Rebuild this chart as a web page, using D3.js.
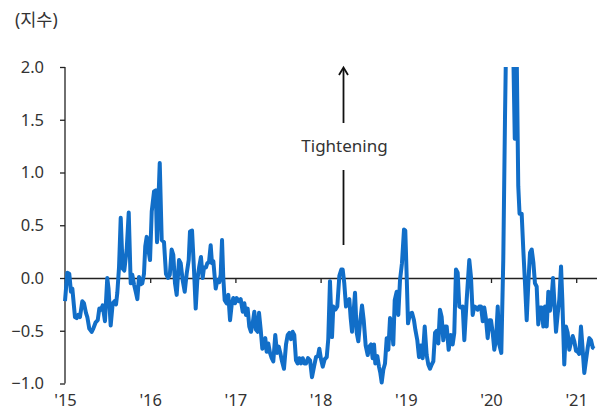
<!DOCTYPE html>
<html>
<head>
<meta charset="utf-8">
<script src="https://cdn.jsdelivr.net/npm/d3@7"></script>
<style>
  body { margin: 0; background: #fff; }
  text { font-family: "Noto Sans", "Noto Sans CJK KR", sans-serif; fill: #333; }
</style>
</head>
<body>
<div id="visContainer"></div>
<script>
// time as decimal years (about one point a week)
const years = [
  2015.000, 2015.027, 2015.050, 2015.070, 2015.086, 2015.117, 2015.137, 2015.156, 2015.176, 2015.203,
  2015.223, 2015.246, 2015.262, 2015.285, 2015.313, 2015.332, 2015.360, 2015.384, 2015.403, 2015.423,
  2015.442, 2015.469, 2015.496, 2015.511, 2015.536, 2015.560, 2015.581, 2015.599, 2015.614, 2015.634,
  2015.654, 2015.677, 2015.696, 2015.724, 2015.748, 2015.771, 2015.790, 2015.810, 2015.833, 2015.849,
  2015.869, 2015.888, 2015.907, 2015.927, 2015.942, 2015.959, 2015.978, 2015.998, 2016.018, 2016.045,
  2016.065, 2016.080, 2016.095, 2016.112, 2016.135, 2016.162, 2016.185, 2016.209, 2016.230, 2016.252,
  2016.271, 2016.291, 2016.311, 2016.338, 2016.358, 2016.381, 2016.405, 2016.428, 2016.452, 2016.467,
  2016.491, 2016.514, 2016.534, 2016.553, 2016.576, 2016.596, 2016.616, 2016.631, 2016.655, 2016.670,
  2016.690, 2016.710, 2016.725, 2016.741, 2016.755, 2016.769, 2016.788, 2016.811, 2016.827, 2016.843,
  2016.858, 2016.874, 2016.898, 2016.917, 2016.937, 2016.957, 2016.975, 2016.995, 2017.015, 2017.039,
  2017.062, 2017.086, 2017.105, 2017.124, 2017.144, 2017.163, 2017.183, 2017.203, 2017.222, 2017.242,
  2017.262, 2017.277, 2017.297, 2017.316, 2017.336, 2017.351, 2017.367, 2017.386, 2017.406, 2017.426,
  2017.445, 2017.468, 2017.488, 2017.508, 2017.527, 2017.547, 2017.570, 2017.594, 2017.614, 2017.633,
  2017.653, 2017.672, 2017.691, 2017.711, 2017.731, 2017.750, 2017.770, 2017.790, 2017.809, 2017.829,
  2017.852, 2017.876, 2017.899, 2017.923, 2017.946, 2017.969, 2017.985, 2018.005, 2018.025, 2018.048,
  2018.072, 2018.090, 2018.110, 2018.134, 2018.149, 2018.173, 2018.196, 2018.220, 2018.243, 2018.259,
  2018.278, 2018.298, 2018.318, 2018.337, 2018.353, 2018.369, 2018.384, 2018.404, 2018.424, 2018.443,
  2018.462, 2018.486, 2018.506, 2018.529, 2018.553, 2018.572, 2018.592, 2018.611, 2018.627, 2018.642,
  2018.666, 2018.685, 2018.701, 2018.717, 2018.736, 2018.756, 2018.776, 2018.795, 2018.815, 2018.834,
  2018.853, 2018.870, 2018.893, 2018.912, 2018.932, 2018.955, 2018.979, 2018.994, 2019.011, 2019.026,
  2019.049, 2019.073, 2019.096, 2019.112, 2019.135, 2019.155, 2019.175, 2019.198, 2019.222, 2019.245,
  2019.264, 2019.284, 2019.304, 2019.323, 2019.343, 2019.363, 2019.382, 2019.401, 2019.421, 2019.440,
  2019.460, 2019.480, 2019.503, 2019.527, 2019.550, 2019.569, 2019.589, 2019.609, 2019.628, 2019.648,
  2019.668, 2019.687, 2019.715, 2019.745, 2019.765, 2019.785, 2019.804, 2019.824, 2019.844, 2019.863,
  2019.883, 2019.903, 2019.921, 2019.941, 2019.961, 2019.980, 2020.000, 2020.020, 2020.039, 2020.059,
  2020.079, 2020.097, 2020.121, 2020.144, 2020.164, 2020.180, 2020.200, 2020.229, 2020.258, 2020.279,
  2020.299, 2020.320, 2020.335, 2020.360, 2020.379, 2020.399, 2020.419, 2020.438, 2020.458, 2020.478,
  2020.497, 2020.516, 2020.536, 2020.555, 2020.575, 2020.595, 2020.614, 2020.634, 2020.654, 2020.673,
  2020.692, 2020.712, 2020.728, 2020.743, 2020.763, 2020.783, 2020.802, 2020.822, 2020.837, 2020.860,
  2020.880, 2020.900, 2020.919, 2020.939, 2020.959, 2020.978, 2020.998, 2021.018, 2021.036, 2021.056,
  2021.076, 2021.095, 2021.115, 2021.135, 2021.154, 2021.174, 2021.194, 2021.212
];

const index = [
  -0.22, 0.05, 0.04, -0.13, -0.10, -0.37, -0.38, -0.35, -0.37, -0.22,
  -0.24, -0.33, -0.37, -0.48, -0.51, -0.48, -0.42, -0.40, -0.29, -0.30,
  -0.26, -0.41, 0.00, -0.10, -0.45, -0.24, -0.22, -0.25, -0.14, 0.10,
  0.57, 0.09, 0.07, 0.27, 0.62, -0.05, 0.03, -0.06, -0.14, -0.20,
  0.01, -0.06, -0.05, 0.04, 0.30, 0.39, 0.27, 0.17, 0.63, 0.82,
  0.83, 0.34, 0.70, 1.09, 0.36, 0.34, 0.04, 0.00, 0.03, 0.27,
  0.22, -0.05, -0.16, 0.17, 0.14, -0.02, -0.13, 0.04, 0.17, 0.44,
  0.45, 0.08, -0.29, -0.02, 0.11, 0.20, 0.00, 0.10, 0.10, 0.14,
  0.15, 0.31, 0.14, 0.16, 0.03, -0.10, -0.02, -0.04, 0.03, 0.36,
  0.00, -0.21, -0.24, -0.16, -0.40, -0.25, -0.19, -0.24, -0.19, -0.22,
  -0.20, -0.32, -0.24, -0.35, -0.29, -0.46, -0.51, -0.43, -0.32, -0.49,
  -0.51, -0.33, -0.49, -0.67, -0.65, -0.57, -0.70, -0.62, -0.71, -0.76,
  -0.79, -0.54, -0.71, -0.65, -0.71, -0.79, -0.86, -0.63, -0.54, -0.52,
  -0.58, -0.51, -0.54, -0.78, -0.81, -0.76, -0.81, -0.76, -0.81, -0.81,
  -0.76, -0.78, -0.94, -0.84, -0.75, -0.74, -0.67, -0.77, -0.84, -0.77,
  -0.75, -0.58, -0.03, -0.56, -0.27, -0.30, -0.27, 0.02, 0.08, 0.08,
  -0.05, -0.27, -0.22, -0.20, -0.38, -0.51, -0.36, -0.14, -0.52, -0.60,
  -0.43, -0.26, -0.40, -0.64, -0.73, -0.65, -0.63, -0.76, -0.63, -0.81,
  -0.74, -0.84, -0.90, -0.99, -0.87, -0.81, -0.57, -0.68, -0.38, -0.43,
  -0.63, -0.21, -0.13, -0.35, -0.02, 0.14, 0.46, 0.45, 0.00, -0.43,
  -0.34, -0.33, -0.40, -0.49, -0.59, -0.75, -0.64, -0.76, -0.46, -0.73,
  -0.82, -0.86, -0.82, -0.79, -0.52, -0.50, -0.62, -0.30, -0.37, -0.59,
  -0.46, -0.46, -0.68, -0.54, -0.63, -0.52, 0.08, 0.05, -0.27, -0.28,
  -0.27, -0.59, -0.20, 0.17, 0.01, -0.35, -0.27, -0.28, -0.30, -0.27,
  -0.27, -0.41, -0.28, -0.39, -0.57, -0.40, -0.40, -0.52, -0.68, -0.58,
  -0.27, -0.63, -0.71, 0.17, 1.50, 2.40, 4.00, 3.20, 2.30, 1.32,
  2.30, 0.87, 0.61, 0.61, 0.27, -0.05, -0.40, -0.05, 0.24, 0.27,
  0.15, -0.05, -0.08, -0.44, -0.28, -0.28, -0.46, -0.27, -0.46, -0.13,
  -0.31, -0.18, 0.00, -0.22, -0.51, -0.34, -0.20, 0.11, -0.20, -0.82,
  -0.46, -0.52, -0.68, -0.61, -0.55, -0.60, -0.69, -0.70, -0.72, -0.46,
  -0.68, -0.90, -0.78, -0.66, -0.57, -0.59, -0.66, -0.67
];

const yearTicks = [2015, 2016, 2017, 2018, 2019, 2020, 2021];
const yearLabels = ["'15", "'16", "'17", "'18", "'19", "'20", "'21"];
const valueTicks = [-1.0, -0.5, 0.0, 0.5, 1.0, 1.5, 2.0];

function makeVis() {
  const width = 597;
  const height = 416;
  const margins = { left: 65, right: 0, top: 67, bottom: 32.5 };

  const svg = d3.create("svg")
    .attr("width", width)
    .attr("height", height);
  document.querySelector("#visContainer").append(svg.node());

  const xScale = d3.scaleLinear().domain([2015, 2021.25]).range([margins.left, width + 0.5]);
  const yScale = d3.scaleLinear().domain([-1, 2]).range([height - margins.bottom, margins.top]);

  // unit label
  svg.append("text")
    .attr("x", 15).attr("y", 26)
    .style("font-size", "17.5px")
    .text("(지수)");

  // y axis
  const yAxis = svg.append("g")
    .attr("transform", `translate(${margins.left},0)`)
    .call(d3.axisLeft(yScale).tickValues(valueTicks).tickFormat(d3.format(".1f"))
      .tickSize(5).tickSizeOuter(0).tickPadding(16));
  yAxis.selectAll("text").style("font-size", "16.5px").attr("fill", "#333");
  yAxis.selectAll("line, path").attr("stroke", "#222").attr("stroke-width", 1.3);
  yAxis.select(".domain").attr("d", `M0,${yScale(2)}V${yScale(-1)}`);

  // zero line with year ticks
  const xAxis = svg.append("g")
    .attr("transform", `translate(0,${yScale(0)})`)
    .call(d3.axisBottom(xScale).tickValues(yearTicks).tickFormat("").tickSize(5).tickSizeOuter(0));
  xAxis.selectAll("line, path").attr("stroke", "#222").attr("stroke-width", 1.3);

  // year labels at the bottom
  const xLabels = svg.append("g")
    .attr("transform", `translate(0,${yScale(-1)})`)
    .call(d3.axisBottom(xScale).tickValues(yearTicks)
      .tickFormat((d, i) => yearLabels[i]).tickSize(0).tickPadding(11));
  xLabels.select(".domain").remove();
  xLabels.selectAll("text").style("font-size", "16.5px").attr("fill", "#333");

  // clip at 2.0
  svg.append("clipPath").attr("id", "plotClip")
    .append("rect")
    .attr("x", 0).attr("y", yScale(2))
    .attr("width", width).attr("height", height);

  const points = years.map((t, i) => [t, index[i]]);
  const line = d3.line()
    .x(d => xScale(d[0]))
    .y(d => yScale(d[1]));

  svg.append("path")
    .datum(points)
    .attr("clip-path", "url(#plotClip)")
    .attr("fill", "none")
    .attr("stroke", "#116ec8")
    .attr("stroke-width", 4)
    .attr("stroke-linejoin", "round")
    .attr("d", line);

  // Tightening annotation
  const ax = 343.5;
  svg.append("line")
    .attr("x1", ax).attr("x2", ax)
    .attr("y1", 245).attr("y2", 170)
    .attr("stroke", "#111").attr("stroke-width", 1.8);
  svg.append("line")
    .attr("x1", ax).attr("x2", ax)
    .attr("y1", 123).attr("y2", 68)
    .attr("stroke", "#111").attr("stroke-width", 1.8);
  svg.append("path")
    .attr("d", `M${ax - 4.5},${75} L${ax},${67.5} L${ax + 4.5},${75}`)
    .attr("fill", "none").attr("stroke", "#111").attr("stroke-width", 1.8);
  svg.append("text")
    .attr("x", ax + 1).attr("y", 152)
    .attr("text-anchor", "middle")
    .style("font-size", "17px")
    .text("Tightening");
}

makeVis();
</script>
</body>
</html>
